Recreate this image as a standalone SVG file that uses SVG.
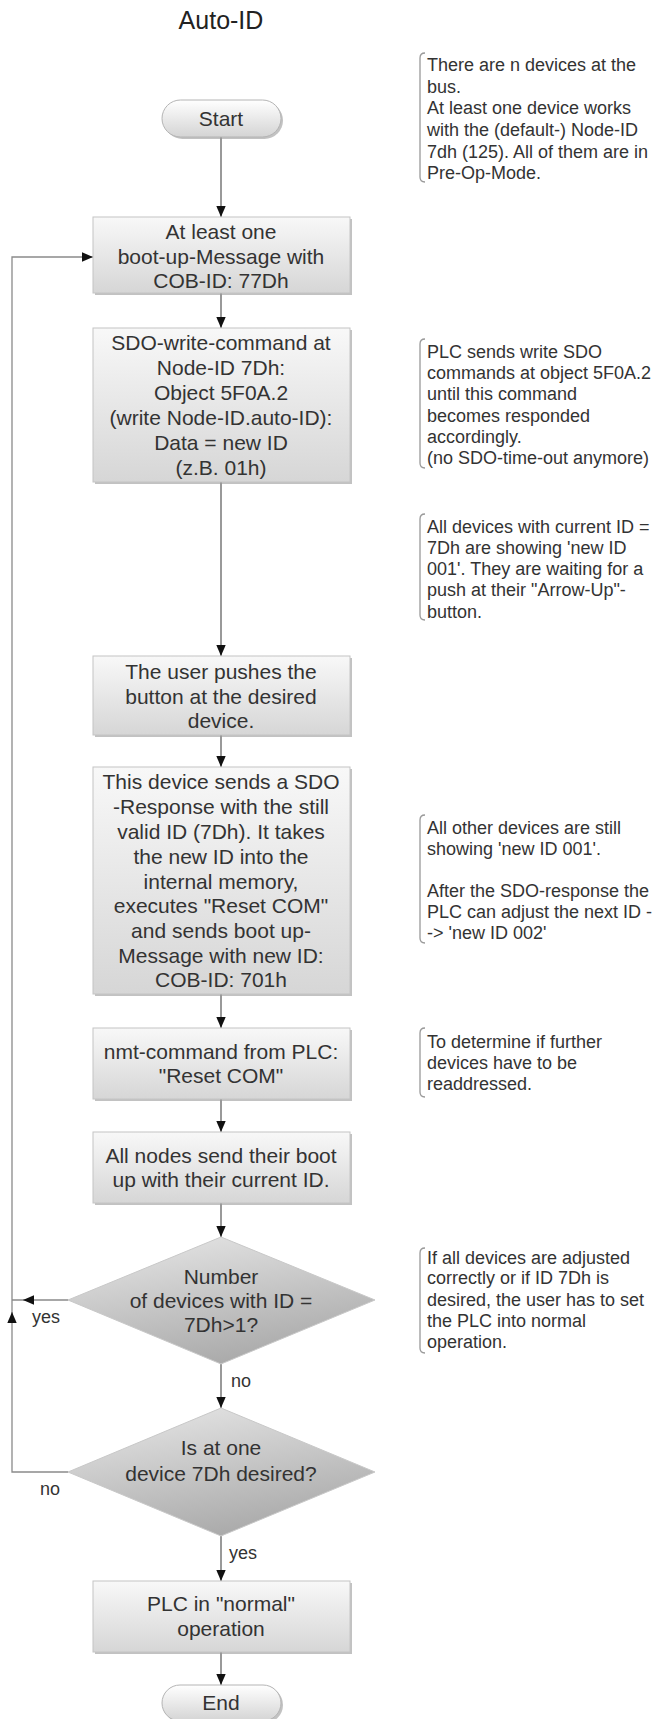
<svg xmlns="http://www.w3.org/2000/svg" width="662" height="1719" viewBox="0 0 662 1719">
<defs>
<linearGradient id="gBox" x1="0" y1="0" x2="0" y2="1">
<stop offset="0" stop-color="#f8f8f8"/>
<stop offset="1" stop-color="#d6d6d6"/>
</linearGradient>
<linearGradient id="gPill" x1="0" y1="0" x2="0" y2="1">
<stop offset="0" stop-color="#ffffff"/>
<stop offset="1" stop-color="#d4d4d4"/>
</linearGradient>
<linearGradient id="gDia" x1="0.2" y1="0" x2="0.6" y2="1">
<stop offset="0" stop-color="#e4e4e4"/>
<stop offset="1" stop-color="#a8a8a8"/>
</linearGradient>
<marker id="ah" viewBox="0 0 11 9.4" refX="11" refY="4.7" markerWidth="11" markerHeight="9.4" markerUnits="userSpaceOnUse" orient="auto">
<path d="M0,0 L11,4.7 L0,9.4 z" fill="#111"/>
</marker>
<style>
.box{fill:url(#gBox);stroke:#c4c4c4;stroke-width:1}
.shadow{fill:#9a9a9a;opacity:0.6}
.pill{fill:url(#gPill);stroke:#b4b4b4;stroke-width:1}
.dia{fill:url(#gDia);stroke:#c8c8c8;stroke-width:1}
.t{font-family:"Liberation Sans",Arial,sans-serif;font-size:21px;fill:#333;text-anchor:middle}
.a{font-family:"Liberation Sans",Arial,sans-serif;font-size:18px;fill:#333}
.lbl{font-family:"Liberation Sans",Arial,sans-serif;font-size:18px;fill:#333}
.title{font-family:"Liberation Sans",Arial,sans-serif;font-size:25px;fill:#222;text-anchor:middle}
.c{fill:none;stroke:#555;stroke-width:1.2}
.loop{fill:none;stroke:#8a8a8a;stroke-width:1.3}
.br{fill:none;stroke:#999;stroke-width:1.3}
</style>
</defs>

<text class="title" x="221" y="29">Auto-ID</text>

<g id="connectors">
<path class="c" d="M221,137 V217" marker-end="url(#ah)"/>
<path class="c" d="M221,293 V328" marker-end="url(#ah)"/>
<path class="c" d="M221,482 V656" marker-end="url(#ah)"/>
<path class="c" d="M221,735 V767" marker-end="url(#ah)"/>
<path class="c" d="M221,994 V1028" marker-end="url(#ah)"/>
<path class="c" d="M221,1099 V1132" marker-end="url(#ah)"/>
<path class="c" d="M221,1203 V1237" marker-end="url(#ah)"/>
<path class="c" d="M221,1364 V1408" marker-end="url(#ah)"/>
<path class="c" d="M221,1536 V1581" marker-end="url(#ah)"/>
<path class="c" d="M221,1652 V1685" marker-end="url(#ah)"/>
<path class="loop" d="M68,1472 H12 V257 H93" marker-end="url(#ah)"/>
<path class="loop" d="M68,1300 H12"/>
<path class="loop" d="M34,1300 H23" marker-end="url(#ah)"/>
<path class="loop" d="M12,1323 V1312" marker-end="url(#ah)"/>
<text class="lbl" x="32" y="1323">yes</text>
<text class="lbl" x="231" y="1387">no</text>
<text class="lbl" x="40" y="1495">no</text>
<text class="lbl" x="229" y="1559">yes</text>
</g>

<g id="start">
<rect x="164" y="102" width="119" height="37" rx="18.5" class="shadow"/>
<rect x="162" y="100" width="119" height="37" rx="18.5" class="pill"/>
<text class="t" x="221" y="126">Start</text>
</g>

<g id="box1">
<rect x="95" y="219" width="257" height="76" class="shadow"/>
<rect x="93" y="217" width="257" height="76" class="box"/>
<text class="t" x="221" y="239">At least one</text>
<text class="t" x="221" y="264">boot-up-Message with</text>
<text class="t" x="221" y="288">COB-ID: 77Dh</text>
</g>

<g id="box2">
<rect x="95" y="330" width="257" height="154" class="shadow"/>
<rect x="93" y="328" width="257" height="154" class="box"/>
<text class="t" x="221" y="350">SDO-write-command at</text>
<text class="t" x="221" y="375">Node-ID 7Dh:</text>
<text class="t" x="221" y="400">Object 5F0A.2</text>
<text class="t" x="221" y="425">(write Node-ID.auto-ID):</text>
<text class="t" x="221" y="450">Data = new ID</text>
<text class="t" x="221" y="475">(z.B. 01h)</text>
</g>

<g id="box3">
<rect x="95" y="658" width="257" height="79" class="shadow"/>
<rect x="93" y="656" width="257" height="79" class="box"/>
<text class="t" x="221" y="679">The user pushes the</text>
<text class="t" x="221" y="704">button at the desired</text>
<text class="t" x="221" y="728">device.</text>
</g>

<g id="box4">
<rect x="95" y="769" width="257" height="227" class="shadow"/>
<rect x="93" y="767" width="257" height="227" class="box"/>
<text class="t" x="221" y="789">This device sends a SDO</text>
<text class="t" x="221" y="814">-Response with the still</text>
<text class="t" x="221" y="839">valid ID (7Dh). It takes</text>
<text class="t" x="221" y="864">the new ID into the</text>
<text class="t" x="221" y="889">internal memory,</text>
<text class="t" x="221" y="913">executes "Reset COM"</text>
<text class="t" x="221" y="938">and sends boot up-</text>
<text class="t" x="221" y="963">Message with new ID:</text>
<text class="t" x="221" y="987">COB-ID: 701h</text>
</g>

<g id="box5">
<rect x="95" y="1030" width="257" height="71" class="shadow"/>
<rect x="93" y="1028" width="257" height="71" class="box"/>
<text class="t" x="221" y="1059">nmt-command from PLC:</text>
<text class="t" x="221" y="1083">"Reset COM"</text>
</g>

<g id="box6">
<rect x="95" y="1134" width="257" height="71" class="shadow"/>
<rect x="93" y="1132" width="257" height="71" class="box"/>
<text class="t" x="221" y="1163">All nodes send their boot</text>
<text class="t" x="221" y="1187">up with their current ID.</text>
</g>

<g id="decision1">
<polygon points="221,1237 375,1300 221,1364 68,1300" class="dia"/>
<text class="t" x="221" y="1284">Number</text>
<text class="t" x="221" y="1308">of devices with ID =</text>
<text class="t" x="221" y="1332">7Dh&gt;1?</text>
</g>

<g id="decision2">
<polygon points="221,1408 375,1472 221,1536 68,1472" class="dia"/>
<text class="t" x="221" y="1455">Is at one</text>
<text class="t" x="221" y="1481">device 7Dh desired?</text>
</g>

<g id="box7">
<rect x="95" y="1583" width="257" height="71" class="shadow"/>
<rect x="93" y="1581" width="257" height="71" class="box"/>
<text class="t" x="221" y="1611">PLC in "normal"</text>
<text class="t" x="221" y="1636">operation</text>
</g>

<g id="end">
<rect x="164" y="1687" width="119" height="36" rx="18" class="shadow"/>
<rect x="162" y="1685" width="119" height="36" rx="18" class="pill"/>
<text class="t" x="221" y="1710">End</text>
</g>

<g id="note1">
<path class="br" d="M425,53 Q420,53 420,58 V177 Q420,182 425,182"/>
<text class="a" x="427" y="71">There are n devices at the</text>
<text class="a" x="427" y="93">bus.</text>
<text class="a" x="427" y="114">At least one device works</text>
<text class="a" x="427" y="136">with the (default-) Node-ID</text>
<text class="a" x="427" y="158">7dh (125). All of them are in</text>
<text class="a" x="427" y="179">Pre-Op-Mode.</text>
</g>

<g id="note2">
<path class="br" d="M425,339 Q420,339 420,344 V463 Q420,468 425,468"/>
<text class="a" x="427" y="358">PLC sends write SDO</text>
<text class="a" x="427" y="379">commands at object 5F0A.2</text>
<text class="a" x="427" y="400">until this command</text>
<text class="a" x="427" y="422">becomes responded</text>
<text class="a" x="427" y="443">accordingly.</text>
<text class="a" x="427" y="464">(no SDO-time-out anymore)</text>
</g>

<g id="note3">
<path class="br" d="M425,514 Q420,514 420,519 V615 Q420,620 425,620"/>
<text class="a" x="427" y="533">All devices with current ID =</text>
<text class="a" x="427" y="554">7Dh are showing 'new ID</text>
<text class="a" x="427" y="575">001'. They are waiting for a</text>
<text class="a" x="427" y="596">push at their "Arrow-Up"-</text>
<text class="a" x="427" y="618">button.</text>
</g>

<g id="note4">
<path class="br" d="M425,815 Q420,815 420,820 V938 Q420,943 425,943"/>
<text class="a" x="427" y="834">All other devices are still</text>
<text class="a" x="427" y="855">showing 'new ID 001'.</text>
<text class="a" x="427" y="897">After the SDO-response the</text>
<text class="a" x="427" y="918">PLC can adjust the next ID -</text>
<text class="a" x="427" y="939">-&gt; 'new ID 002'</text>
</g>

<g id="note5">
<path class="br" d="M425,1028 Q420,1028 420,1033 V1092 Q420,1097 425,1097"/>
<text class="a" x="427" y="1048">To determine if further</text>
<text class="a" x="427" y="1069">devices have to be</text>
<text class="a" x="427" y="1090">readdressed.</text>
</g>

<g id="note6">
<path class="br" d="M425,1248 Q420,1248 420,1253 V1348 Q420,1353 425,1353"/>
<text class="a" x="427" y="1264">If all devices are adjusted</text>
<text class="a" x="427" y="1284">correctly or if ID 7Dh is</text>
<text class="a" x="427" y="1306">desired, the user has to set</text>
<text class="a" x="427" y="1327">the PLC into normal</text>
<text class="a" x="427" y="1348">operation.</text>
</g>
</svg>
